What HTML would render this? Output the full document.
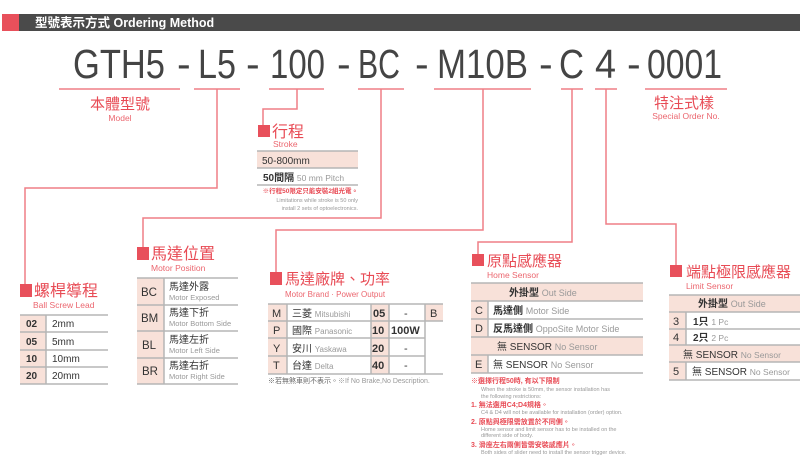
<!DOCTYPE html>
<html><head><meta charset="utf-8"><style>
body{margin:0;background:#fff;width:800px;height:462px;overflow:hidden}
svg{display:block}
text{font-family:"Liberation Sans","Noto Sans CJK TC",sans-serif}
.r{fill:#e84b55}.g{fill:#999}.d{fill:#333}
</style></head><body>
<svg width="800" height="462" viewBox="0 0 800 462" xmlns="http://www.w3.org/2000/svg">
<rect x="2" y="14" width="798" height="17" fill="#4a4a4a"/>
<rect x="2" y="14" width="17" height="17" fill="#e8505b"/>
<text x="35" y="27" fill="#fff" font-size="12.5" font-weight="bold">型號表示方式  Ordering Method</text>
<g fill="#444" font-size="41">
<text x="73" y="78" textLength="92" lengthAdjust="spacingAndGlyphs">GTH5</text>
<text x="177" y="78">-</text>
<text x="198" y="78" textLength="38" lengthAdjust="spacingAndGlyphs">L5</text>
<text x="246" y="78">-</text>
<text x="270" y="78" textLength="55" lengthAdjust="spacingAndGlyphs">100</text>
<text x="337" y="78">-</text>
<text x="358" y="78" textLength="42" lengthAdjust="spacingAndGlyphs">BC</text>
<text x="415" y="78">-</text>
<text x="437" y="78" textLength="91" lengthAdjust="spacingAndGlyphs">M10B</text>
<text x="539" y="78">-</text>
<text x="559" y="78" textLength="25" lengthAdjust="spacingAndGlyphs">C</text>
<text x="595" y="78" textLength="21" lengthAdjust="spacingAndGlyphs">4</text>
<text x="627" y="78">-</text>
<text x="647" y="78" textLength="75" lengthAdjust="spacingAndGlyphs">0001</text>
</g>
<g stroke="#ef7f86" stroke-width="1.5" fill="none">
<line x1="59" y1="89" x2="180" y2="89"/>
<line x1="194" y1="89" x2="240" y2="89"/>
<line x1="269" y1="89" x2="324" y2="89"/>
<line x1="358" y1="89" x2="404" y2="89"/>
<line x1="434" y1="89" x2="531" y2="89"/>
<line x1="561" y1="89" x2="583" y2="89"/>
<line x1="595" y1="89" x2="617" y2="89"/>
<line x1="645" y1="89" x2="727" y2="89"/>
<polyline points="217,89 217,188 25,188 25,286"/>
<polyline points="297,89 297,109 263,109 263,126"/>
<polyline points="381,89 381,218 143,218 143,248"/>
<polyline points="483,89 483,230 276,230 276,274"/>
<polyline points="572,89 572,242 478,242 478,255"/>
<polyline points="606,89 606,224 676,224 676,266"/>
</g>
<text x="120" y="109" text-anchor="middle" class="r" font-size="15">本體型號</text>
<text x="120" y="121" text-anchor="middle" class="r" font-size="8.5" opacity=".85">Model</text>
<text x="684" y="108" text-anchor="middle" class="r" font-size="15">特注式樣</text>
<text x="686" y="119" text-anchor="middle" class="r" font-size="8.5" opacity=".85">Special Order No.</text>
<rect x="258" y="125" width="12" height="12" fill="#e8505b"/>
<text x="272" y="137" class="r" font-size="16">行程</text>
<text x="273" y="147" class="r" font-size="8.5" opacity=".85">Stroke</text>
<rect x="257" y="151" width="101" height="17" fill="#f8e1d9"/>
<g stroke="#b5b5b5" stroke-width="1.5"><line x1="257" y1="151" x2="358" y2="151"/><line x1="257" y1="168" x2="358" y2="168"/><line x1="257" y1="185" x2="358" y2="185"/></g>
<text x="262" y="164" class="d" font-size="10">50-800mm</text>
<text x="263" y="181" class="d" font-size="10" font-weight="bold">50間隔 <tspan class="g" font-weight="normal" font-size="8.5">50 mm Pitch</tspan></text>
<text x="358" y="193" text-anchor="end" class="r" font-size="6.5" font-weight="bold">※行程50限定只能安裝2組光電。</text>
<text x="358" y="202" text-anchor="end" class="g" font-size="5.5">Limitations while stroke is 50 only</text>
<text x="358" y="210" text-anchor="end" class="g" font-size="5.5">install 2 sets of optoelectronics.</text>
<rect x="20" y="284" width="12" height="13" fill="#e8505b"/>
<text x="34" y="296" class="r" font-size="16">螺桿導程</text>
<text x="33" y="308" class="r" font-size="8.5" opacity=".85">Ball Screw Lead</text>
<rect x="20" y="315" width="26" height="69" fill="#f8e1d9"/>
<g stroke="#b5b5b5" stroke-width="1.5">
<line x1="20" y1="315" x2="108" y2="315"/><line x1="20" y1="332" x2="108" y2="332"/><line x1="20" y1="350" x2="108" y2="350"/><line x1="20" y1="367" x2="108" y2="367"/><line x1="20" y1="384" x2="108" y2="384"/>
<line x1="46" y1="315" x2="46" y2="384"/></g>
<g class="d" font-size="10"><text x="26" y="327" font-weight="bold">02</text><text x="52" y="327">2mm</text>
<text x="26" y="345" font-weight="bold">05</text><text x="52" y="345">5mm</text>
<text x="26" y="362" font-weight="bold">10</text><text x="52" y="362">10mm</text>
<text x="26" y="379" font-weight="bold">20</text><text x="52" y="379">20mm</text></g>
<rect x="137" y="247" width="12" height="13" fill="#e8505b"/>
<text x="151" y="259" class="r" font-size="16">馬達位置</text>
<text x="151" y="271" class="r" font-size="8.5" opacity=".85">Motor Position</text>
<rect x="137" y="278" width="27" height="106" fill="#f8e1d9"/>
<g stroke="#b5b5b5" stroke-width="1.5">
<line x1="137" y1="278" x2="238" y2="278"/><line x1="137" y1="305" x2="238" y2="305"/><line x1="137" y1="331" x2="238" y2="331"/><line x1="137" y1="358" x2="238" y2="358"/><line x1="137" y1="384" x2="238" y2="384"/>
<line x1="164" y1="278" x2="164" y2="384"/></g>
<g font-size="11.5" class="d"><text x="141" y="296">BC</text><text x="141" y="322">BM</text><text x="142" y="349">BL</text><text x="142" y="375">BR</text></g>
<g font-size="10" class="d"><text x="169" y="290">馬達外露</text><text x="169" y="316">馬達下折</text><text x="169" y="343">馬達左折</text><text x="169" y="369">馬達右折</text></g>
<g font-size="7.5" class="g"><text x="169" y="300">Motor Exposed</text><text x="169" y="326">Motor Bottom Side</text><text x="169" y="353">Motor Left Side</text><text x="169" y="379">Motor Right Side</text></g>
<rect x="270" y="272" width="12" height="13" fill="#e8505b"/>
<text x="285" y="284" class="r" font-size="15">馬達廠牌、功率</text>
<text x="285" y="297" class="r" font-size="8" opacity=".85">Motor Brand · Power Output</text>
<rect x="268" y="304" width="19" height="70" fill="#f8e1d9"/>
<rect x="371" y="304" width="18" height="70" fill="#f8e1d9"/>
<rect x="425" y="304" width="18" height="17" fill="#f8e1d9"/>
<g stroke="#b5b5b5" stroke-width="1.5">
<line x1="268" y1="304" x2="443" y2="304"/><line x1="268" y1="321" x2="443" y2="321"/><line x1="268" y1="338" x2="425" y2="338"/><line x1="268" y1="356" x2="425" y2="356"/><line x1="268" y1="374" x2="443" y2="374"/>
<line x1="287" y1="304" x2="287" y2="374"/><line x1="371" y1="304" x2="371" y2="374"/><line x1="389" y1="304" x2="389" y2="374"/><line x1="425" y1="304" x2="425" y2="374"/></g>
<g font-size="11" class="d">
<text x="272" y="317">M</text><text x="273" y="334">P</text><text x="273" y="352">Y</text><text x="273" y="369">T</text>
<text x="373" y="317" font-weight="bold">05</text><text x="372" y="334" font-weight="bold">10</text><text x="372" y="352" font-weight="bold">20</text><text x="372" y="369" font-weight="bold">40</text>
<text x="404" y="317">-</text><text x="391" y="334" font-weight="bold">100W</text><text x="404" y="352">-</text><text x="404" y="369">-</text>
<text x="430" y="317">B</text></g>
<g font-size="10" class="d"><text x="292" y="317">三菱 <tspan class="g" font-size="8">Mitsubishi</tspan></text><text x="292" y="334">國際 <tspan class="g" font-size="8">Panasonic</tspan></text><text x="292" y="352">安川 <tspan class="g" font-size="8">Yaskawa</tspan></text><text x="292" y="369">台達 <tspan class="g" font-size="8">Delta</tspan></text></g>
<text x="268" y="383" font-size="7" fill="#666">※若無煞車則不表示。<tspan fill="#999">※If No Brake,No Description.</tspan></text>
<rect x="472" y="254" width="12" height="12" fill="#e8505b"/>
<text x="487" y="266" class="r" font-size="15">原點感應器</text>
<text x="487" y="278" class="r" font-size="8.5" opacity=".85">Home Sensor</text>
<rect x="471" y="283" width="172" height="18" fill="#f8e1d9"/>
<rect x="471" y="337" width="172" height="18" fill="#f8e1d9"/>
<rect x="471" y="301" width="17" height="36" fill="#f8e1d9"/>
<rect x="471" y="355" width="17" height="18" fill="#f8e1d9"/>
<g stroke="#b5b5b5" stroke-width="1.5">
<line x1="471" y1="283" x2="643" y2="283"/><line x1="471" y1="301" x2="643" y2="301"/><line x1="471" y1="319" x2="643" y2="319"/><line x1="471" y1="337" x2="643" y2="337"/><line x1="471" y1="355" x2="643" y2="355"/><line x1="471" y1="373" x2="643" y2="373"/>
<line x1="488" y1="301" x2="488" y2="337"/><line x1="488" y1="355" x2="488" y2="373"/></g>
<g font-size="10" class="d">
<text x="509" y="296" font-weight="bold">外掛型 <tspan class="g" font-weight="normal" font-size="9">Out Side</tspan></text>
<text x="475" y="314" font-size="11">C</text><text x="493" y="314" font-weight="bold">馬達側 <tspan class="g" font-weight="normal" font-size="9">Motor Side</tspan></text>
<text x="475" y="332" font-size="11">D</text><text x="493" y="332" font-weight="bold">反馬達側 <tspan class="g" font-weight="normal" font-size="9">OppoSite Motor Side</tspan></text>
<text x="497" y="350">無 SENSOR <tspan class="g" font-size="9">No Sensor</tspan></text>
<text x="475" y="368" font-size="11">E</text><text x="493" y="368">無  SENSOR <tspan class="g" font-size="9">No Sensor</tspan></text>
</g>
<g font-size="7">
<text x="471" y="383" class="r" font-weight="bold">※選擇行程50時, 有以下限制</text>
<text x="481" y="391" class="g" font-size="5.5">When the stroke is 50mm, the sensor installation has</text>
<text x="481" y="398" class="g" font-size="5.5">the following restrictions:</text>
<text x="471" y="407" class="r" font-weight="bold">1. 無法選用C4;D4規格。</text>
<text x="481" y="414" class="g" font-size="5.5">C4 &amp; D4 will not be available for installation (order) option.</text>
<text x="471" y="424" class="r" font-weight="bold">2. 原點與極限需放置於不同側。</text>
<text x="481" y="431" class="g" font-size="5.5">Home sensor and limit sensor has to be installed on the</text>
<text x="481" y="437" class="g" font-size="5.5">different side of body.</text>
<text x="471" y="447" class="r" font-weight="bold">3. 滑座左右兩側皆需安裝感應片。</text>
<text x="481" y="454" class="g" font-size="5.5">Both sides of slider need to install the sensor trigger device.</text>
</g>
<rect x="670" y="265" width="12" height="12" fill="#e8505b"/>
<text x="686" y="277" class="r" font-size="15">端點極限感應器</text>
<text x="686" y="289" class="r" font-size="8.5" opacity=".85">Limit Sensor</text>
<rect x="669" y="295" width="131" height="17" fill="#f8e1d9"/>
<rect x="669" y="345" width="131" height="17" fill="#f8e1d9"/>
<rect x="669" y="312" width="17" height="33" fill="#f8e1d9"/>
<rect x="669" y="362" width="17" height="18" fill="#f8e1d9"/>
<g stroke="#b5b5b5" stroke-width="1.5">
<line x1="669" y1="295" x2="800" y2="295"/><line x1="669" y1="312" x2="800" y2="312"/><line x1="669" y1="329" x2="800" y2="329"/><line x1="669" y1="345" x2="800" y2="345"/><line x1="669" y1="362" x2="800" y2="362"/><line x1="669" y1="380" x2="800" y2="380"/>
<line x1="686" y1="312" x2="686" y2="345"/><line x1="686" y1="362" x2="686" y2="380"/></g>
<g font-size="10" class="d">
<text x="698" y="307" font-weight="bold">外掛型 <tspan class="g" font-weight="normal" font-size="9">Out Side</tspan></text>
<text x="673" y="325" font-size="11">3</text><text x="693" y="325" font-weight="bold">1只 <tspan class="g" font-weight="normal" font-size="8.5"> 1 Pc</tspan></text>
<text x="673" y="341" font-size="11">4</text><text x="693" y="341" font-weight="bold">2只 <tspan class="g" font-weight="normal" font-size="8.5"> 2 Pc</tspan></text>
<text x="683" y="358">無 SENSOR <tspan class="g" font-size="8.5">No Sensor</tspan></text>
<text x="673" y="375" font-size="11">5</text><text x="692" y="375">無 SENSOR <tspan class="g" font-size="8.5">No Sensor</tspan></text>
</g>
</svg>
</body></html>
